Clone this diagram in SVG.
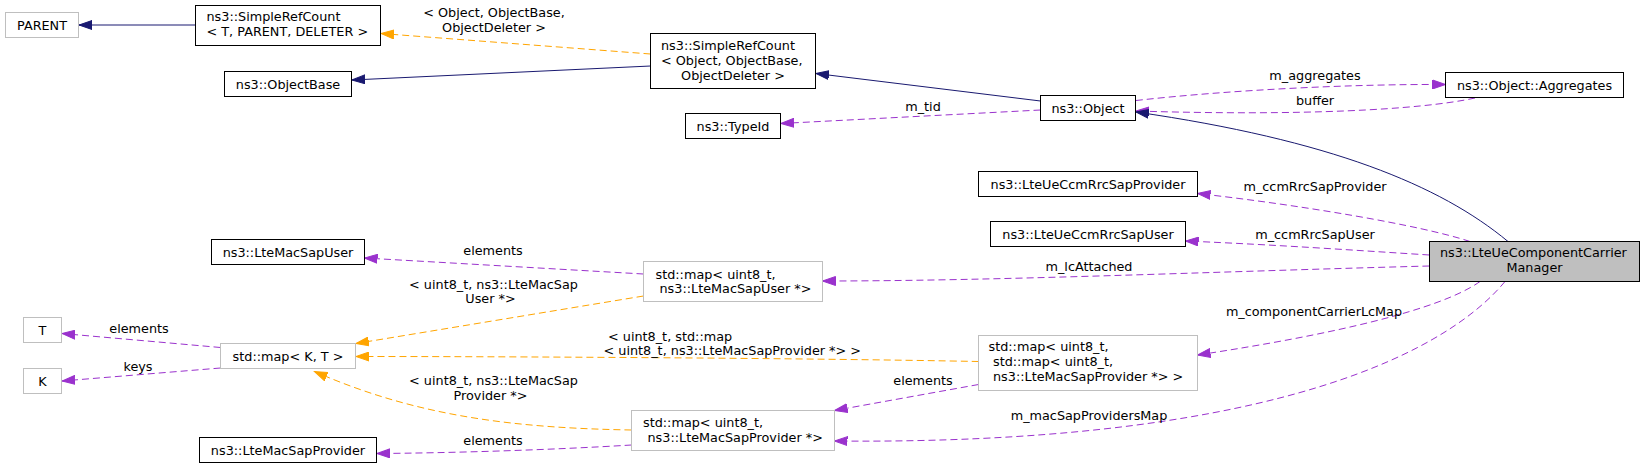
<svg xmlns="http://www.w3.org/2000/svg" width="1645" height="469" viewBox="0 0 1645 469">
<style>
text{font-family:"DejaVu Sans","Liberation Sans",sans-serif;font-size:12.8px;fill:#000}
.c{text-anchor:middle}
.nb rect{fill:#fff;stroke:#000;stroke-width:1}
.ng rect{fill:#fff;stroke:#bfbfbf;stroke-width:1}
.nm rect{fill:#bfbfbf;stroke:#000;stroke-width:1}
.e{fill:none;stroke-width:1}
.nv{stroke:#191970}
.pu{stroke:#9a32cd;stroke-dasharray:7,4}
.or{stroke:#ffa500;stroke-dasharray:7,4}
</style>
<defs>
<marker id="an" markerUnits="userSpaceOnUse" markerWidth="14" markerHeight="10" refX="13" refY="5" orient="auto"><path d="M0,0.5 L13,5 L0,9.5 z" fill="#191970" stroke="#191970"/></marker>
<marker id="ap" markerUnits="userSpaceOnUse" markerWidth="14" markerHeight="10" refX="13" refY="5" orient="auto"><path d="M0,0.5 L13,5 L0,9.5 z" fill="#9a32cd" stroke="#9a32cd"/></marker>
<marker id="ao" markerUnits="userSpaceOnUse" markerWidth="14" markerHeight="10" refX="13" refY="5" orient="auto"><path d="M0,0.5 L13,5 L0,9.5 z" fill="#ffa500" stroke="#ffa500"/></marker>
</defs>
<rect width="1645" height="469" fill="#fff"/>
<g id="edges">
<path class="e nv" d="M195.5,25 L79,25" marker-end="url(#an)"/>
<path class="e nv" d="M650.5,66 L352,80" marker-end="url(#an)"/>
<path class="e or" d="M650.5,54 L381,33.5" marker-end="url(#ao)"/>
<text class="c" x="494" y="17">&lt; Object, ObjectBase,</text>
<text class="c" x="494" y="32">ObjectDeleter &gt;</text>
<path class="e nv" d="M1040.5,101 L816,73.5" marker-end="url(#an)"/>
<path class="e pu" d="M1040.5,110 L781,123.5" marker-end="url(#ap)"/>
<text class="c" x="923" y="111">m_tid</text>
<path class="e pu" d="M1136,100.5 C1230,90 1350,84 1445.5,84.5" marker-end="url(#ap)"/>
<text class="c" x="1315" y="80">m_aggregates</text>
<path class="e pu" d="M1475,98 C1420,110 1300,116 1136,111" marker-end="url(#ap)"/>
<text class="c" x="1315" y="105">buffer</text>
<path class="e nv" d="M1508,241.5 C1440,185 1330,140 1136,112" marker-end="url(#an)"/>
<path class="e pu" d="M1470,241.5 C1420,225 1300,205 1197.5,193.5" marker-end="url(#ap)"/>
<text class="c" x="1315" y="191">m_ccmRrcSapProvider</text>
<path class="e pu" d="M1429.5,255 C1350,250 1280,245 1185.5,241" marker-end="url(#ap)"/>
<text class="c" x="1315" y="239">m_ccmRrcSapUser</text>
<path class="e pu" d="M1429.5,266 C1200,272 1000,281 822.5,281" marker-end="url(#ap)"/>
<text class="c" x="1089" y="270.5">m_lcAttached</text>
<path class="e pu" d="M1480,281.5 C1440,310 1330,335 1197.5,355" marker-end="url(#ap)"/>
<text class="c" x="1314" y="316">m_componentCarrierLcMap</text>
<path class="e pu" d="M1505,281.5 C1440,360 1250,445 834.5,441" marker-end="url(#ap)"/>
<text class="c" x="1089" y="420">m_macSapProvidersMap</text>
<path class="e pu" d="M643.5,274 L364.5,258" marker-end="url(#ap)"/>
<text class="c" x="493" y="255">elements</text>
<path class="e or" d="M643.5,296 L356,343.5" marker-end="url(#ao)"/>
<text class="c" x="493.5" y="288.5">&lt; uint8_t, ns3::LteMacSap</text>
<text class="c" x="490.5" y="303">User *&gt;</text>
<path class="e or" d="M978.5,361.5 C800,358 500,356.5 356,356.5" marker-end="url(#ao)"/>
<text x="608" y="340.5">&lt; uint8_t, std::map</text>
<text x="603.5" y="354.5">&lt; uint8_t, ns3::LteMacSapProvider *&gt; &gt;</text>
<path class="e or" d="M631.5,430 C520,428 420,418 314.5,371.5" marker-end="url(#ao)"/>
<text class="c" x="493.5" y="385">&lt; uint8_t, ns3::LteMacSap</text>
<text class="c" x="490.5" y="399.5">Provider *&gt;</text>
<path class="e pu" d="M631.5,445 C550,450 450,453 377,453.5" marker-end="url(#ap)"/>
<text class="c" x="493" y="444.5">elements</text>
<path class="e pu" d="M978.5,384.5 L834.5,410.5" marker-end="url(#ap)"/>
<text class="c" x="923" y="385">elements</text>
<path class="e pu" d="M220.5,347.5 L62,333.5" marker-end="url(#ap)"/>
<text class="c" x="139" y="333">elements</text>
<path class="e pu" d="M220.5,368 L62,381" marker-end="url(#ap)"/>
<text class="c" x="138" y="371">keys</text>
</g>
<g id="PARENT" class="ng"><rect x="5.5" y="12.5" width="73" height="25"/><text class="c" x="42" y="29.5">PARENT</text></g>
<g id="SimpleRefCountT" class="nb"><rect x="195.5" y="5.5" width="185" height="40"/><text x="206.5" y="21">ns3::SimpleRefCount</text><text x="206.5" y="36">&lt; T, PARENT, DELETER &gt;</text></g>
<g id="ObjectBase" class="nb"><rect x="224.5" y="71.5" width="127" height="25"/><text class="c" x="288" y="88.5">ns3::ObjectBase</text></g>
<g id="SimpleRefCountObject" class="nb"><rect x="650.5" y="33.5" width="165" height="55"/><text x="661" y="50">ns3::SimpleRefCount</text><text x="661" y="65">&lt; Object, ObjectBase,</text><text class="c" x="733" y="80">ObjectDeleter &gt;</text></g>
<g id="TypeId" class="nb"><rect x="685.5" y="113.5" width="95" height="25"/><text class="c" x="733" y="130.5">ns3::TypeId</text></g>
<g id="Object" class="nb"><rect x="1040.5" y="95.5" width="95" height="25"/><text class="c" x="1088" y="112.5">ns3::Object</text></g>
<g id="Aggregates" class="nb"><rect x="1445.5" y="72.5" width="178" height="25"/><text class="c" x="1534.5" y="89.5">ns3::Object::Aggregates</text></g>
<g id="CcmRrcSapProvider" class="nb"><rect x="978.5" y="171.5" width="219" height="25"/><text class="c" x="1088" y="188.5">ns3::LteUeCcmRrcSapProvider</text></g>
<g id="CcmRrcSapUser" class="nb"><rect x="990.5" y="221.5" width="195" height="25"/><text class="c" x="1088" y="238.5">ns3::LteUeCcmRrcSapUser</text></g>
<g id="Manager" class="nm"><rect x="1429.5" y="241.5" width="210" height="40"/><text x="1440" y="257">ns3::LteUeComponentCarrier</text><text class="c" x="1534.5" y="272">Manager</text></g>
<g id="LteMacSapUser" class="nb"><rect x="211.5" y="239.5" width="153" height="25"/><text class="c" x="288" y="256.5">ns3::LteMacSapUser</text></g>
<g id="MapUser" class="ng"><rect x="643.5" y="261.5" width="179" height="40"/><text x="655.5" y="278.5">std::map&lt; uint8_t,</text><text x="659.5" y="293">ns3::LteMacSapUser *&gt;</text></g>
<g id="T" class="ng"><rect x="23.5" y="317.5" width="38" height="25"/><text class="c" x="42.5" y="334.5">T</text></g>
<g id="K" class="ng"><rect x="23.5" y="368.5" width="38" height="25"/><text class="c" x="42.5" y="385.5">K</text></g>
<g id="MapKT" class="ng"><rect x="220.5" y="343.5" width="135" height="25"/><text class="c" x="288" y="360.5">std::map&lt; K, T &gt;</text></g>
<g id="MapMap" class="ng"><rect x="978.5" y="335.5" width="219" height="55"/><text x="988.5" y="351">std::map&lt; uint8_t,</text><text x="993" y="366">std::map&lt; uint8_t,</text><text x="993" y="381">ns3::LteMacSapProvider *&gt; &gt;</text></g>
<g id="MapProvider" class="ng"><rect x="631.5" y="410.5" width="203" height="40"/><text x="643" y="427">std::map&lt; uint8_t,</text><text x="647.5" y="441.5">ns3::LteMacSapProvider *&gt;</text></g>
<g id="LteMacSapProvider" class="nb"><rect x="199.5" y="437.5" width="177" height="25"/><text class="c" x="288" y="454.5">ns3::LteMacSapProvider</text></g>
</svg>
